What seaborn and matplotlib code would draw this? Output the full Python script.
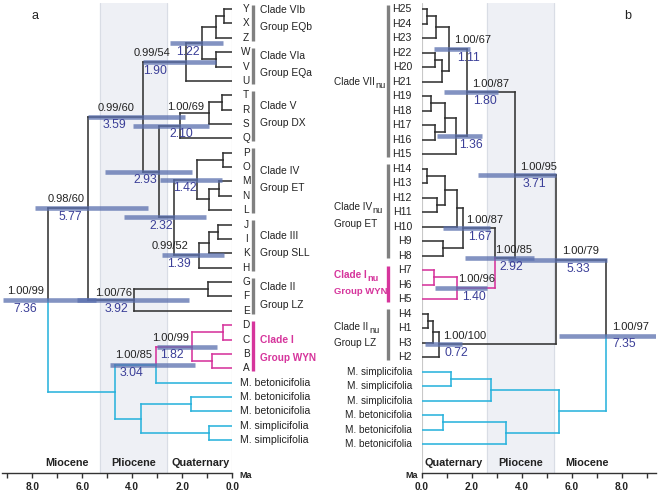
import matplotlib
matplotlib.use("Agg")
import matplotlib.pyplot as plt
import seaborn as sns

# ---------------- panel a (plastid) ----------------
leaves_a = ["Y", "X", "Z", "W", "V", "U", "T", "R", "S", "Q", "P", "O", "M", "N", "L",
            "J", "I", "K", "H", "G", "F", "E", "D", "C", "B", "A",
            "M. betonicifolia", "M. betonicifolia", "M. betonicifolia",
            "M. simplicifolia", "M. simplicifolia"]
# internal nodes: name, upper child, lower child (leaf index or node name), age in Ma
nodes_a = [
    ("yx", 0, 1, 0.33), ("yxz", "yx", 2, 0.65), ("wv", 3, 4, 0.65),
    ("n122", "yxz", "wv", 1.22), ("n190", "n122", 5, 1.85),
    ("tr", 6, 7, 0.42), ("trs", "tr", 8, 0.93), ("n210", "trs", 9, 2.10),
    ("po", 10, 11, 0.37), ("mn", 12, 13, 0.53), ("mnl", "mn", 14, 0.93),
    ("n142", "po", "mnl", 1.42),
    ("ji", 15, 16, 0.57), ("jik", "ji", 17, 0.93), ("n139", "jik", 18, 1.33),
    ("n232", "n142", "n139", 2.33), ("n293", "n210", "n232", 2.93),
    ("n359", "n190", "n293", 3.59),
    ("gf", 19, 20, 0.97), ("n392", "gf", 21, 3.93), ("n577", "n359", "n392", 5.77),
    ("dc", 22, 23, 0.38), ("ba", 24, 25, 0.82), ("n182", "dc", "ba", 1.62),
    ("n304", "n182", 26, 3.05), ("bb", 27, 28, 1.65), ("ss", 29, 30, 0.92),
    ("bs", "bb", "ss", 3.66), ("out", "n304", "bs", 4.70),
    ("root", "n577", "out", 7.36),
]
pink_a = {22, 23, 24, 25, "dc", "ba", "n182"}
cyan_a = {26, 27, 28, 29, 30, "n304", "bb", "ss", "bs", "out"}

hpd_nodes_a = ["n122", "n190", "n359", "n210", "n293", "n142", "n232", "n139",
               "n392", "n577", "root", "n182", "n304"]
hpd_lo_a = [0.37, 0.65, 1.89, 0.92, 1.62, 0.42, 1.05, 0.32, 1.73, 3.38, 5.46, 0.60, 1.49]
hpd_hi_a = [2.49, 3.57, 5.76, 3.98, 5.09, 2.89, 4.32, 2.80, 6.20, 7.89, 9.18, 3.02, 4.89]
support_a = ["", "0.99/54", "0.99/60", "1.00/69", "", "", "", "0.99/52",
             "1.00/76", "0.98/60", "1.00/99", "1.00/99", "1.00/85"]
agelab_a = ["1.22", "1.90", "3.59", "2.10", "2.93", "1.42", "2.32", "1.39",
            "3.92", "5.77", "7.36", "1.82", "3.04"]

clades_a = ["Clade VIb", "Clade VIa", "Clade V", "Clade IV", "Clade III", "Clade II", "Clade I"]
groups_a = ["Group EQb", "Group EQa", "Group DX", "Group ET", "Group SLL", "Group LZ", "Group WYN"]
clade_span_a = [(0, 2), (3, 5), (6, 9), (10, 14), (15, 18), (19, 21), (22, 25)]

# ---------------- panel b (nuclear) ----------------
leaves_b = ["H25", "H24", "H23", "H22", "H20", "H21", "H19", "H18", "H17", "H16", "H15",
            "H14", "H13", "H12", "H11", "H10", "H9", "H8", "H7", "H6", "H5",
            "H4", "H1", "H3", "H2",
            "M. simplicifolia", "M. simplicifolia", "M. simplicifolia",
            "M. betonicifolia", "M. betonicifolia", "M. betonicifolia"]
nodes_b = [
    ("h2524", 0, 1, 0.20), ("h23", "h2524", 2, 0.57), ("h2220", 3, 4, 0.53),
    ("h21", "h2220", 5, 0.80), ("n111", "h23", "h21", 1.10),
    ("h1918", 6, 7, 0.36), ("h1716", 8, 9, 0.53), ("h1916", "h1918", "h1716", 0.93),
    ("n136", "h1916", 10, 1.36), ("n180", "n111", "n136", 1.80),
    ("h1413", 11, 12, 0.23), ("h1211", 13, 14, 0.63), ("h1411", "h1413", "h1211", 0.93),
    ("h10", "h1411", 15, 1.43), ("h98", 16, 17, 0.87), ("n167", "h10", "h98", 1.67),
    ("h76", 18, 19, 0.49), ("n140", "h76", 20, 1.40),
    ("n292", "n167", "n140", 2.93), ("n371", "n180", "n292", 3.73),
    ("h41", 21, 22, 0.27), ("h3", "h41", 23, 0.47), ("n072", "h3", 24, 0.71),
    ("n533", "n371", "n072", 5.37),
    ("s12", 25, 26, 1.16), ("s3", "s12", 27, 2.77), ("b12", 28, 29, 0.84),
    ("b3", "b12", 30, 3.36), ("out", "s3", "b3", 5.49),
    ("root", "n533", "out", 7.38),
]
pink_b = {18, 19, 20, "h76", "n140"}
cyan_b = {25, 26, 27, 28, 29, 30, "s12", "s3", "b12", "b3", "out"}

hpd_nodes_b = ["n111", "n180", "n136", "n371", "n167", "n292", "n533", "n140", "n072", "root"]
hpd_lo_b = [0.50, 0.89, 0.62, 2.27, 0.84, 1.73, 3.45, 0.53, 0.13, 5.50]
hpd_hi_b = [1.94, 3.06, 2.40, 5.37, 2.73, 4.50, 7.40, 2.62, 1.60, 9.40]
support_b = ["1.00/67", "1.00/87", "", "1.00/95", "1.00/87", "1.00/85", "1.00/79",
             "1.00/96", "1.00/100", "1.00/97"]
agelab_b = ["1.11", "1.80", "1.36", "3.71", "1.67", "2.92", "5.33", "1.40", "0.72", "7.35"]

clades_b = ["Clade VII", "Clade IV", "Clade I", "Clade II"]
groups_b = ["", "Group ET", "Group WYN", "Group LZ"]
clade_span_b = [(0, 10), (11, 17), (18, 20), (21, 24)]

epochs = ["Quaternary", "Pliocene", "Miocene"]
epoch_bounds = [0.0, 2.6, 5.3, 9.4]

# ---------------- layout (label anchors, Ma of left edge / leaf rows) ----------------
sup_x_a = [None, 3.93, 5.37, 2.61, None, None, None, 3.21, 5.49, 7.37, 9.01, 3.21, 4.69]
age_x_a = [2.25, 3.57, 5.17, 2.53, 3.97, 2.37, 3.33, 2.61, 5.09, 6.97, 8.77, 2.89, 4.49]
sup_dy_a = [0, -0.6, -0.6, -1.3, 0, 0, 0, -0.6, -0.5, -0.65, -0.6, -0.6, -0.65]
sup_x_b = [1.29, 2.00, None, 3.93, 1.77, 2.93, 5.60, 1.45, 0.85, 7.61]
age_x_b = [1.41, 2.05, 1.49, 4.05, 1.85, 3.09, 5.80, 1.61, 0.93, 7.61]
clade_row_a = [(0.07, 1.25), (3.27, 4.45), (6.75, 7.93), (11.27, 12.46),
               (15.8, 16.98), (19.35, 20.6), (23.03, 24.29)]
clade_row_b = [(5.03, None), (13.66, 14.83), (18.34, 19.5), (21.9, 23.0)]

DARK = "#333333"
TXT = "#222222"
PINK = "#d6359c"
CYAN = "#2bb3dc"
BAR = "#5a6fae"
AGE_C = "#3b3f98"
GREY = "#808080"

sns.set_theme(style="ticks")
plt.rcParams["font.family"] = ["Liberation Sans", "DejaVu Sans"]


def tree_layout(nodes, n_leaves):
    y = {i: float(i) for i in range(n_leaves)}
    age = {i: 0.0 for i in range(n_leaves)}
    parent = {}
    for name, c1, c2, a in nodes:
        y[name] = (y[c1] + y[c2]) / 2
        age[name] = a
        parent[c1] = name
        parent[c2] = name
    return y, age, parent


def draw_tree(ax, leaves, nodes, pink, cyan, hpd_nodes, lo, hi, sup, agel, sup_x, age_x, sup_dy):
    y, age, parent = tree_layout(nodes, len(leaves))

    def col(k):
        return PINK if k in pink else CYAN if k in cyan else DARK

    kw = dict(lw=1.15, solid_capstyle="projecting", zorder=3)
    for k, p in parent.items():
        ax.plot([age[k], age[p]], [y[k], y[k]], color=col(k), **kw)
    for name, c1, c2, a in nodes:
        ax.plot([a, a], [y[c1], y[name]], color=col(c1), **kw)
        ax.plot([a, a], [y[name], y[c2]], color=col(c2), **kw)

    for i, n in enumerate(hpd_nodes):
        ax.plot([lo[i], hi[i]], [y[n], y[n]], color=BAR, lw=3.3, alpha=0.75,
                solid_capstyle="butt", zorder=4)
        if sup[i]:
            ax.text(sup_x[i], y[n] + sup_dy[i], sup[i], fontsize=8, color=TXT,
                    ha="left", va="center", zorder=5)
        ax.text(age_x[i], y[n] + 0.6, agel[i], fontsize=8.8, color=AGE_C,
                ha="left", va="center", zorder=5)
    return y


def style_axis(ax, xlim, ylim):
    ax.set_facecolor("none")
    ax.set_xlim(*xlim)
    ax.set_ylim(*ylim)
    ax.axvspan(epoch_bounds[1], epoch_bounds[2], color="#eef0f5", zorder=0)
    for b in epoch_bounds[1:3]:
        ax.axvline(b, color="#d9dde5", lw=0.8, zorder=0.5)
    ax.axvline(0, color="#c8c8c8", lw=0.8, zorder=1)
    sns.despine(ax=ax, left=True, top=True, right=True)
    ax.set_yticks([])
    ax.set_xticks([0, 2, 4, 6, 8])
    ax.set_xticks([1, 3, 5, 7, 9], minor=True)
    ax.set_xticklabels(["0.0", "2.0", "4.0", "6.0", "8.0"], fontweight="bold", fontsize=7.3)
    ax.tick_params(axis="x", which="both", direction="out", length=3.5, width=1,
                   color=DARK, pad=3, labelcolor=TXT)
    ax.spines["bottom"].set_color(DARK)
    ax.spines["bottom"].set_linewidth(1)
    centers = [1.28, 3.95, 6.62]
    for name, c in zip(epochs, centers):
        ax.text(c, 0.022, name, transform=ax.get_xaxis_transform(), ha="center",
                va="center", fontsize=7.8, fontweight="bold", color=TXT)


def clade_label(ax, x, y, main, color, weight, sub=True):
    t = ax.text(x, y, main, ha="left", va="center", fontsize=7.2, color=color,
                fontweight=weight, clip_on=False)
    if sub:
        ax.annotate("nu", xy=(1, 0.5), xycoords=t, xytext=(0.6, -2.6),
                    textcoords="offset points", ha="left", va="center", fontsize=6.6,
                    color=color, fontweight=weight, annotation_clip=False)


fig = plt.figure(figsize=(6.59, 4.92), dpi=100)
axa = fig.add_axes([2.3 / 659, 19 / 492, 230 / 659, 470 / 492])
axb = fig.add_axes([421.7 / 659, 19 / 492, 233.8 / 659, 470 / 492])

# panel a
style_axis(axa, (9.2, 0), (32.29, -0.42))
draw_tree(axa, leaves_a, nodes_a, pink_a, cyan_a, hpd_nodes_a, hpd_lo_a, hpd_hi_a,
          support_a, agelab_a, sup_x_a, age_x_a, sup_dy_a)
for i, name in enumerate(leaves_a):
    if name.startswith("M."):
        axa.text(-0.31, i, name, ha="left", va="center", fontsize=7.6, color=TXT,
                 clip_on=False)
    else:
        axa.text(-0.55, i, name, ha="center", va="center", fontsize=7.2, color=TXT,
                 clip_on=False)
for (s, e), lab, grp, (r1, r2) in zip(clade_span_a, clades_a, groups_a, clade_row_a):
    pink = s == 22
    c = PINK if pink else GREY
    tc = PINK if pink else TXT
    w = "bold" if pink else "normal"
    axa.plot([-0.83, -0.83], [s - 0.3, e + 0.2], color=c, lw=2.4, clip_on=False,
             solid_capstyle="butt")
    axa.text(-1.1, r1, lab, ha="left", va="center", fontsize=7.4, color=tc,
             fontweight=w, clip_on=False)
    axa.text(-1.1, r2, grp, ha="left", va="center", fontsize=7.4 if not pink else 7.2,
             color=tc, fontweight=w, clip_on=False)
axa.text(-0.3, -0.006, "Ma", transform=axa.get_xaxis_transform(), ha="left", va="center",
         fontsize=6.5, fontweight="bold", color=TXT, clip_on=False)
axa.text(8.05, 0.7, "a", fontsize=9, color=TXT)

# panel b
style_axis(axb, (0, 9.35), (32.0, -0.414))
draw_tree(axb, leaves_b, nodes_b, pink_b, cyan_b, hpd_nodes_b, hpd_lo_b, hpd_hi_b,
          support_b, agelab_b, sup_x_b, age_x_b, [-0.6] * len(hpd_nodes_b))
for i, name in enumerate(leaves_b):
    fs = 7.2 if name.startswith("M.") else 7.6
    axb.text(-0.39, i, name, ha="right", va="center", fontsize=fs, color=TXT, clip_on=False)
for (s, e), lab, grp, (r1, r2) in zip(clade_span_b, clades_b, groups_b, clade_row_b):
    pink = s == 18
    c = PINK if pink else GREY
    tc = PINK if pink else TXT
    w = "bold" if pink else "normal"
    axb.plot([-1.35, -1.35], [s - 0.3, e + 0.2], color=c, lw=2.4, clip_on=False,
             solid_capstyle="butt")
    clade_label(axb, -3.51, r1, lab, tc, w)
    if grp:
        axb.text(-3.51, r2, grp, ha="left", va="center", fontsize=6.8 if pink else 7.2,
                 color=tc, fontweight=w, clip_on=False)
axb.text(-0.15, -0.006, "Ma", transform=axb.get_xaxis_transform(), ha="right", va="center",
         fontsize=6.5, fontweight="bold", color=TXT, clip_on=False)
axb.text(8.1, 0.7, "b", fontsize=9, color=TXT)

fig.savefig("out.png", dpi=100)
